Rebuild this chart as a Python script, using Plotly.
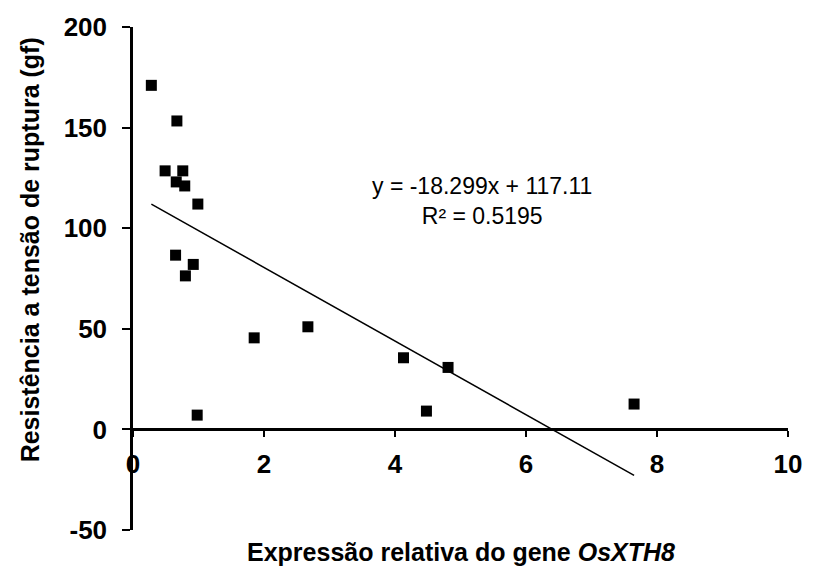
import plotly.graph_objects as go

# Data
expr = [0.28, 0.67, 0.49, 0.76, 0.66, 0.79, 0.99, 0.65, 0.92, 0.80,
        0.98, 1.85, 2.67, 4.13, 4.81, 4.48, 7.65]
resist = [171.0, 153.3, 128.5, 128.5, 123.0, 121.0, 112.0, 86.6, 82.0, 76.3,
          7.1, 45.5, 51.0, 35.6, 30.8, 9.1, 12.6]

slope = -18.299
intercept = 117.11
r2 = 0.5195

x_ticks = [0, 2, 4, 6, 8, 10]
x_ticktext = ["0", "2", "4", "6", "8", "10"]
y_ticks = [-50, 0, 50, 100, 150, 200]
y_ticktext = ["-50", "0", "50", "100", "150", "200"]

FONT = "Liberation Sans, Arial, sans-serif"

xmin, xmax = min(expr), max(expr)
trend_x = [xmin, xmax]
trend_y = [slope * v + intercept for v in trend_x]

fig = go.Figure()
fig.add_trace(go.Scatter(x=trend_x, y=trend_y, mode="lines",
                         line=dict(color="black", width=1.5), showlegend=False,
                         hoverinfo="skip"))
fig.add_trace(go.Scatter(x=expr, y=resist, mode="markers",
                         marker=dict(symbol="square", size=11, color="black"),
                         showlegend=False))

fig.update_layout(
    width=814, height=567,
    margin=dict(l=133, r=16, t=27, b=37),
    paper_bgcolor="white", plot_bgcolor="white",
    font=dict(family=FONT, color="black"),
    xaxis=dict(range=[0, 10], tickvals=x_ticks, ticktext=x_ticktext,
               showgrid=False, zeroline=False,
               showline=True, linecolor="black", linewidth=2.5,
               ticks="outside", ticklen=6, tickwidth=2, tickcolor="black",
               anchor="free", position=0.2,
               tickfont=dict(family=FONT, size=26, weight="bold"),
               ticklabelstandoff=5),
    yaxis=dict(range=[-50, 200], tickvals=y_ticks, ticktext=y_ticktext,
               showgrid=False, zeroline=False,
               showline=True, linecolor="black", linewidth=2.5,
               ticks="outside", ticklen=8, tickwidth=2, tickcolor="black",
               tickfont=dict(family=FONT, size=26, weight="bold"),
               ticklabelstandoff=10),
)

fig.add_annotation(xref="paper", yref="paper", x=-0.158, y=0.557,
                   text="<b>Resistência a tensão de ruptura (gf)</b>",
                   textangle=-90, showarrow=False,
                   font=dict(family=FONT, size=25, color="black"),
                   xanchor="center", yanchor="middle")
fig.add_annotation(xref="paper", yref="paper", x=0.5, y=-0.044,
                   text="<b>Expressão relativa do gene <i>OsXTH8</i></b>",
                   showarrow=False,
                   font=dict(family=FONT, size=25, color="black"),
                   xanchor="center", yanchor="middle")
fig.add_annotation(xref="paper", yref="paper", x=0.533, y=0.655,
                   text=f"y = {slope}x + {intercept}<br>R² = {r2}",
                   showarrow=False, align="center",
                   font=dict(family=FONT, size=23, color="black"),
                   xanchor="center", yanchor="middle")

fig.write_html("out.html")
